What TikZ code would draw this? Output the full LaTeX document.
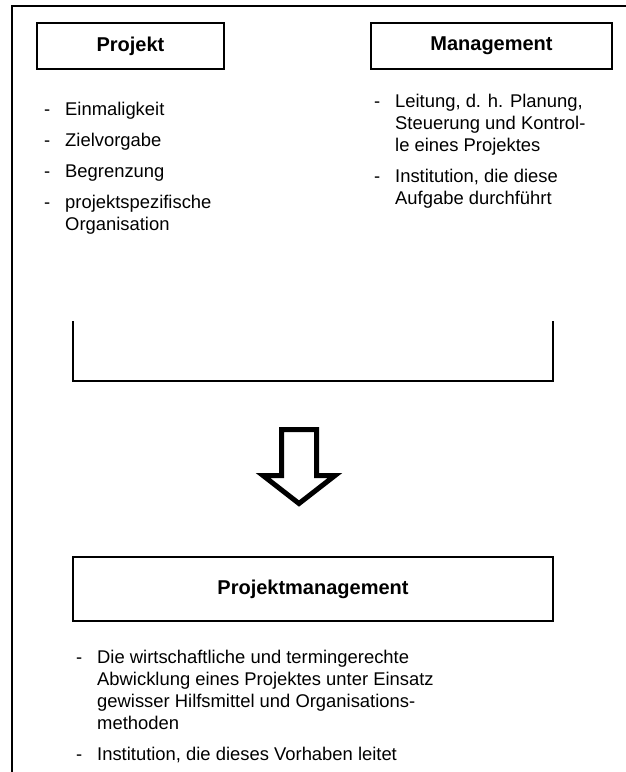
\documentclass[tikz,border=0pt]{standalone}
\usepackage{fontspec}
\setmainfont{Liberation Sans}
\usetikzlibrary{positioning}

% mehrzeilige Punkte, Grundlinie = erste Zeile
\newcommand{\itemlines}[1]{\begin{tabular}[t]{@{}l@{}}#1\end{tabular}}

\tikzset{
  titlebox/.style={draw, line width=1.6pt, inner sep=0pt,
    font=\fontsize{20}{24}\selectfont\bfseries},
  itemtext/.style={anchor=base west, inner sep=0pt,
    font=\fontsize{18.4}{22}\selectfont},
  itemdash/.style={anchor=base west, inner sep=0pt, xshift=-21pt,
    font=\fontsize{18.4}{22}\selectfont},
  frameline/.style={line width=1.6pt},
}

\begin{document}
\begin{tikzpicture}[x=1pt,y=-1pt]
  \useasboundingbox (0,0) rectangle (626,772);

  % outer frame
  \draw[frameline] (12,772) -- (12,6) -- (626,6);

  % Boxes
  \node[titlebox, minimum width=187pt, minimum height=46pt] (projekt) at (130.5,46) {Projekt};
  \node[titlebox, minimum width=241pt, minimum height=46pt] (mgmt) at (491.5,46) {Management};
  \node[titlebox, minimum width=480pt, minimum height=64pt] (pm) at (313,589) {Projektmanagement};

  % Projekt
  \node[itemtext] (p1) at (65,115) {Einmaligkeit};
  \node[itemtext] (p2) at (65,146) {Zielvorgabe};
  \node[itemtext] (p3) at (65,177) {Begrenzung};
  \node[itemtext] (p4) at (65,208) {\itemlines{projektspezifische\\Organisation}};
  \foreach \i in {p1,p2,p3,p4}
    \node[itemdash] at (\i.base west) {-};

  % Management
  \node[itemtext] (m1) at (395,107) {\itemlines{Leitung, d. h. Planung,\\Steuerung und Kontrol-\\le eines Projektes}};
  \node[itemtext] (m2) at (395,182) {\itemlines{Institution, die diese\\Aufgabe durchführt}};
  \foreach \i in {m1,m2}
    \node[itemdash] at (\i.base west) {-};

  % Klammer
  \draw[frameline] (73,321) -- (73,381) -- (553,381) -- (553,321);

  % Pfeil
  \draw[line width=5pt, line join=miter]
    (281.5,429.5) -- (316.5,429.5) -- (316.5,475.5) -- (335,475.5)
    -- (299,503.5) -- (263,475.5) -- (281.5,475.5) -- cycle;

  % Projektmanagement
  \node[itemtext] (pm1) at (97,663) {\itemlines{Die wirtschaftliche und termingerechte\\Abwicklung eines Projektes unter Einsatz\\gewisser Hilfsmittel und Organisations-\\methoden}};
  \node[itemtext] (pm2) at (97,760) {Institution, die dieses Vorhaben leitet};
  \foreach \i in {pm1,pm2}
    \node[itemdash] at (\i.base west) {-};
\end{tikzpicture}
\end{document}
